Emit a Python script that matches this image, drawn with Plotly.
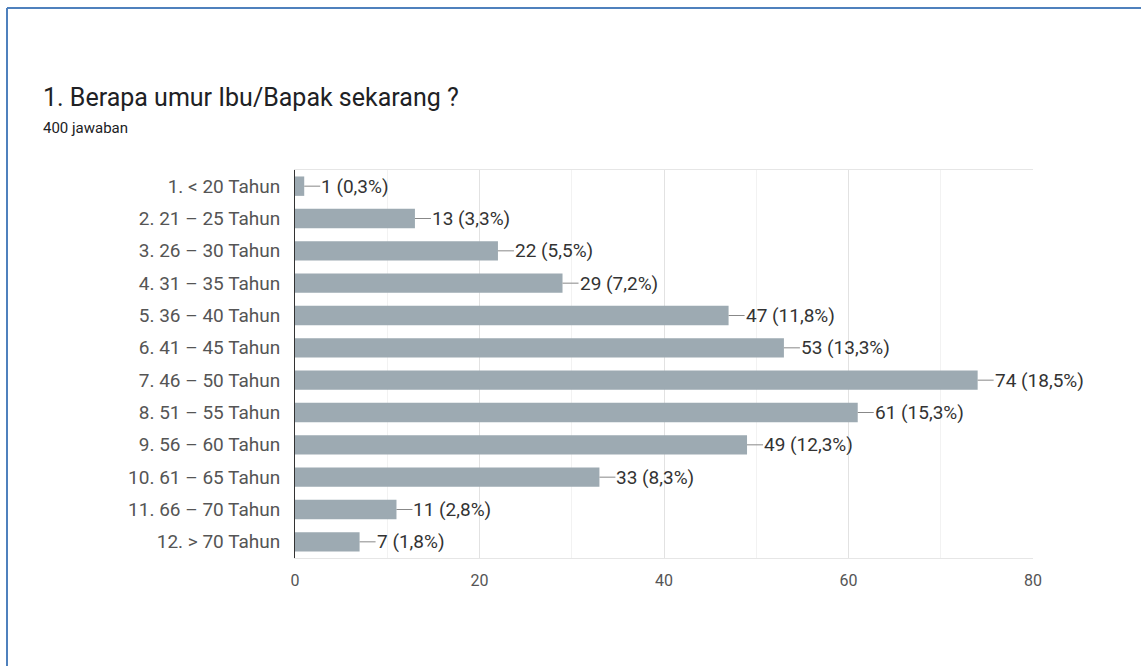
import plotly.graph_objects as go

# Survey responses: age groups of respondents
categories = [
    "1. < 20 Tahun", "2. 21 – 25 Tahun", "3. 26 – 30 Tahun", "4. 31 – 35 Tahun",
    "5. 36 – 40 Tahun", "6. 41 – 45 Tahun", "7. 46 – 50 Tahun", "8. 51 – 55 Tahun",
    "9. 56 – 60 Tahun", "10. 61 – 65 Tahun", "11. 66 – 70 Tahun", "12. > 70 Tahun",
]
counts = [1, 13, 22, 29, 47, 53, 74, 61, 49, 33, 11, 7]
percent_labels = ["0,3%", "3,3%", "5,5%", "7,2%", "11,8%", "13,3%",
                  "18,5%", "15,3%", "12,3%", "8,3%", "2,8%", "1,8%"]
x_ticks = [0, 20, 40, 60, 80]

title_text = "1. Berapa umur Ibu/Bapak sekarang ?"
subtitle_text = "400 jawaban"

W, H = 1141, 666
L, R, T, B = 295, 108, 170, 108
PW, PH = W - L - R, H - T - B


def px_x(p):
    return (p - L) / PW


def px_y(p):
    return 1 - (p - T) / PH


BAR = "#9daab2"
FONT = "Roboto"

fig = go.Figure(go.Bar(
    x=counts, y=categories, orientation="h",
    marker=dict(color=BAR, line=dict(width=0)),
    hoverinfo="skip",
))

annotations = []
for c, v, p in zip(categories, counts, percent_labels):
    annotations.append(dict(
        x=v, y=c, xref="x", yref="y",
        text=f"{v} ({p})",
        showarrow=True, arrowhead=0, arrowwidth=1, arrowcolor="#888888",
        ax=16, ay=0, xanchor="left", yanchor="middle",
        standoff=0, startstandoff=0, borderpad=0,
        font=dict(family=FONT, size=19, color="#333333"),
    ))

annotations.append(dict(
    x=px_x(41), y=px_y(97), xref="paper", yref="paper",
    text=title_text, showarrow=False, xanchor="left", yanchor="middle",
    font=dict(family=FONT, size=25, color="#202124"),
))
annotations.append(dict(
    x=px_x(41), y=px_y(128), xref="paper", yref="paper",
    text=subtitle_text, showarrow=False, xanchor="left", yanchor="middle",
    font=dict(family=FONT, size=15, color="#202124"),
))

shapes = [
    # blue frame around the card (left and top edges)
    dict(type="line", xref="paper", yref="paper",
         x0=px_x(7), x1=px_x(7), y0=px_y(8), y1=px_y(H + 20),
         line=dict(color="#4f81bd", width=2)),
    dict(type="line", xref="paper", yref="paper",
         x0=px_x(7), x1=px_x(W + 20), y0=px_y(8), y1=px_y(8),
         line=dict(color="#4f81bd", width=2)),
]

fig.update_layout(
    width=W, height=H,
    margin=dict(l=L, r=R, t=T, b=B, autoexpand=False),
    paper_bgcolor="white", plot_bgcolor="white",
    showlegend=False,
    bargap=0.4,
    annotations=annotations,
    shapes=shapes,
    font=dict(family=FONT, color="#555555"),
)

fig.update_xaxes(
    range=[0, 80], tickvals=x_ticks, ticktext=[str(t) for t in x_ticks],
    showgrid=True, gridcolor="#e2e2e2", gridwidth=1,
    minor=dict(dtick=10, showgrid=True, gridcolor="#f2f2f2", gridwidth=1),
    zeroline=False,
    showline=True, linecolor="#e6e6e6", linewidth=1, mirror=True,
    ticks="", ticklabelstandoff=8,
    tickfont=dict(family=FONT, size=16, color="#555555"),
    fixedrange=True,
)
fig.update_yaxes(
    autorange="reversed",
    showgrid=False, zeroline=False,
    showline=True, linecolor="#333333", linewidth=1,
    ticks="", ticklabelstandoff=10,
    tickfont=dict(family=FONT, size=19, color="#555555"),
    fixedrange=True,
)

fig.write_html("out.html", config={"displayModeBar": False})
